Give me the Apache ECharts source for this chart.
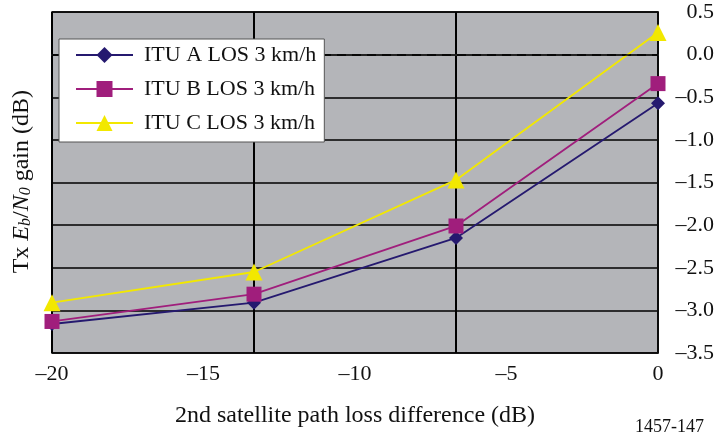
<!DOCTYPE html>
<html><head><meta charset="utf-8">
<script src="https://cdn.jsdelivr.net/npm/echarts@6/dist/echarts.min.js"></script>
<style>html,body{margin:0;padding:0;background:#fff}#c{width:717px;height:439px}</style>
</head><body><div id="c"></div>
<script>
const xValues = [-20, -40/3, -20/3, 0];
const seriesNames = ['ITU A LOS 3 km/h', 'ITU B LOS 3 km/h', 'ITU C LOS 3 km/h'];
const ituA = [-3.16, -2.91, -2.15, -0.57];
const ituB = [-3.13, -2.81, -2.01, -0.34];
const ituC = [-2.91, -2.55, -1.47, 0.26];
const yTicks = [-3.5, -3.0, -2.5, -2.0, -1.5, -1.0, -0.5, 0.0, 0.5];
const xTicks = [-20, -15, -10, -5, 0];

const FONT = 'Liberation Serif';
const colors = ['#25196f', '#a01e7c', '#f2e800'];
const symbols = ['diamond', 'rect', 'triangle'];
const sizes = [14, 15, 17];
const datasets = [ituA, ituB, ituC];

const chart = echarts.init(document.getElementById('c'));
const dash = s => String(s).replace('-', '\u2013');

const series = datasets.map((d, i) => ({
  name: seriesNames[i],
  type: 'line',
  data: d.map((v, j) => [xValues[j], v]),
  symbol: symbols[i],
  symbolSize: sizes[i],
  showAllSymbol: true,
  lineStyle: { color: colors[i], width: 1.8 },
  itemStyle: { color: colors[i] },
  z: 2 + i * 0.1,
  animation: false,
  markLine: i === 0 ? {
    silent: true, symbol: ['none', 'none'], label: { show: false },
    lineStyle: { color: '#000', type: [9, 6], width: 1.6 },
    data: [{ yAxis: 0 }], animation: false
  } : undefined
}));

const yLineColors = yTicks.map(v => (v === 0 ? 'rgba(0,0,0,0)' : '#000'));

chart.setOption({
  animation: false,
  backgroundColor: '#fff',
  grid: { left: 52, top: 12, right: 59, bottom: 86, show: true, backgroundColor: '#b4b5b9', borderColor: '#111', borderWidth: 1.5 },
  legend: {
    left: 59, top: 39, orient: 'vertical', z: 20,
    backgroundColor: '#fff', borderColor: '#555', borderWidth: 1,
    padding: [5, 8, 8, 16], itemGap: 12, itemWidth: 57, itemHeight: 20,
    textStyle: { fontFamily: FONT, fontSize: 22, color: '#111', padding: [0, 0, 0, 6] },
    data: seriesNames
  },
  xAxis: [{
    type: 'value', min: xTicks[0], max: xTicks[xTicks.length - 1], interval: 5,
    position: 'bottom',
    axisLine: { show: true, lineStyle: { color: '#222', width: 2 } },
    axisTick: { show: false },
    splitLine: { show: false },
    axisLabel: { fontFamily: FONT, fontSize: 22, color: '#111', margin: 10, formatter: v => dash(v) },
    name: '2nd satellite path loss difference (dB)',
    nameLocation: 'middle', nameGap: 51,
    nameTextStyle: { fontFamily: FONT, fontSize: 24, color: '#111' }
  }, {
    type: 'value', min: -20, max: 0, interval: 20 / 3,
    position: 'bottom',
    axisLine: { show: false }, axisTick: { show: false }, axisLabel: { show: false },
    splitLine: { show: true, lineStyle: { color: '#000', width: 2 } }
  }],
  yAxis: {
    type: 'value', min: -3.5, max: 0.5, interval: 0.5, position: 'right',
    axisLine: { show: true, lineStyle: { color: '#111', width: 1.5 } },
    axisTick: { show: false },
    splitLine: { show: true, lineStyle: { color: yLineColors, width: 1.5 } },
    axisLabel: { fontFamily: FONT, fontSize: 22, color: '#111', align: 'right', margin: 56,
      formatter: v => dash(Number(v).toFixed(1)) }
  },
  graphic: [{
    type: 'text', left: 10, top: 90, rotation: Math.PI / 2,
    style: {
      text: '{n|Tx }{i|E}{s|b}{n|/}{i|N}{s|0}{n| gain (dB)}',
      fill: '#111',
      rich: {
        n: { fontFamily: FONT, fontSize: 24, verticalAlign: 'bottom', lineHeight: 28 },
        i: { fontFamily: FONT, fontSize: 24, fontStyle: 'italic', verticalAlign: 'bottom', lineHeight: 28 },
        s: { fontFamily: FONT, fontSize: 16, fontStyle: 'italic', verticalAlign: 'bottom', lineHeight: 22 }
      }
    }
  }, {
    type: 'text', left: 635, top: 418,
    style: { text: '1457-147', fontFamily: FONT, fontSize: 18, fill: '#111' }
  }],
  series: series
});
</script>
</body></html>
